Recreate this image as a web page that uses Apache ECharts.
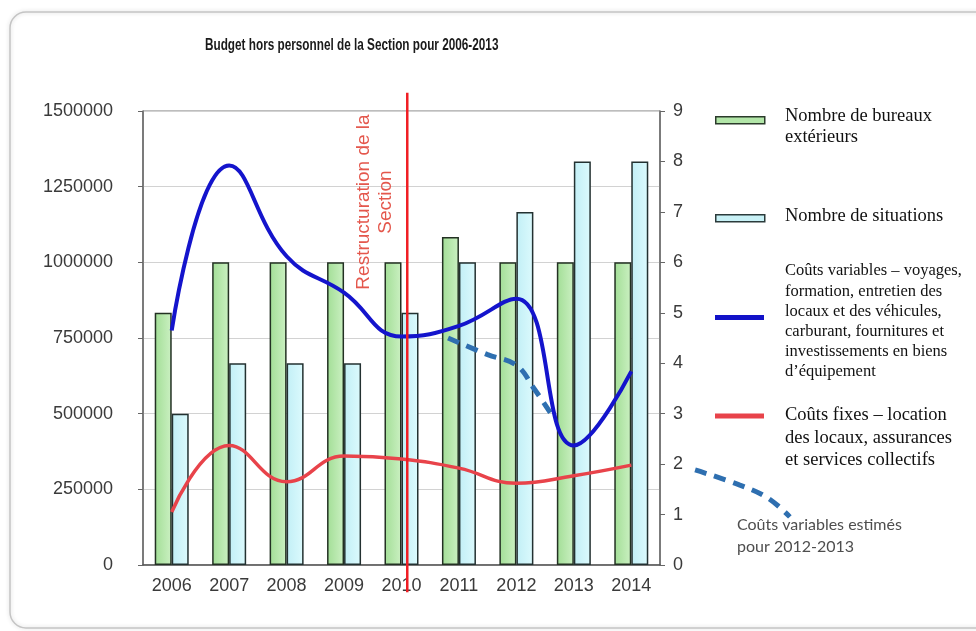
<!DOCTYPE html>
<html>
<head>
<meta charset="utf-8">
<script src="https://cdn.jsdelivr.net/npm/echarts@6/dist/echarts.min.js"></script>
<style>
  html, body { margin: 0; padding: 0; background: #ffffff; }
  #chart { width: 976px; height: 631px; }
</style>
</head>
<body>
<div id="chart"></div>
<script>
// Years on the category axis
const years = ['2006', '2007', '2008', '2009', '2010', '2011', '2012', '2013', '2014'];

// Counts (right axis)
const bureauxExterieurs = [5, 6, 6, 6, 6, 6.5, 6, 6, 6];
const situations = [3, 4, 4, 4, 5, 6, 7, 8, 8];

// Costs (left axis)
const coutsVariables = [775000, 1320000, 1020000, 900000, 755000, 790000, 880000, 395000, 640000];
const coutsFixes = [175000, 395000, 275000, 360000, 350000, 320000, 270000, 295000, 330000];

// Estimated variable costs, on a continuous scale where 0 = 2006 ... 8 = 2014
const estimesX = [4.81, 5.5, 6.0, 6.3, 6.64];
const estimesY = [750000, 695000, 660000, 585000, 489000];

// Leader from the right axis down to the note about the estimate (same scale, past 2014)
const renvoiX = [9.11, 9.89, 10.38, 10.76];
const renvoiY = [314000, 264000, 221000, 159000];

// Restructuring marker (inside 2010), running past the plot at both ends
const restructurationX = 4.1;
const restructurationY = [1560000, -90000];

// Axis ticks
const yLeftTicks = { min: 0, max: 1500000, interval: 250000 };
const yRightTicks = { min: 0, max: 9, interval: 1 };

const names = {
  bureaux: 'Nombre de bureaux extérieurs',
  situations: 'Nombre de situations',
  variables: 'Coûts variables',
  fixes: 'Coûts fixes'
};

// Wrapped legend labels
const legendLabels = [
  { lines: ['Nombre de bureaux', 'extérieurs'], top: 106, size: 18.5, lh: 20.5 },
  { lines: ['Nombre de situations'], top: 205.5, size: 18.5, lh: 21 },
  { lines: ['Coûts variables – voyages,', 'formation, entretien des', 'locaux et des véhicules,',
      'carburant, fournitures et', 'investissements en biens', 'd’équipement'], top: 261, size: 16.5, lh: 20.2 },
  { lines: ['Coûts fixes – location', 'des locaux, assurances', 'et services collectifs'], top: 404, size: 18.5, lh: 22.5 }
];

const serif = "'Liberation Serif', 'Times New Roman', serif";
const sans = "'Liberation Sans', Arial, sans-serif";

// One legend per key; the wrapped labels are set beside the keys
function legendKey(name, top, iconH, style) {
  return {
    data: [{ name: name, icon: 'rect', itemStyle: style }],
    left: 715,
    top: top,
    padding: 0,
    itemWidth: 49,
    itemHeight: iconH,
    selectedMode: false,
    formatter: function () { return ''; },
    textStyle: { fontSize: 2, lineHeight: 2 }
  };
}

const chart = echarts.init(document.getElementById('chart'), null, { renderer: 'canvas' });

const labelGraphics = legendLabels.map(function (b) {
  return {
    type: 'text',
    silent: true,
    x: 785,
    y: b.top,
    style: {
      text: b.lines.join('\n'),
      fontFamily: serif,
      fontSize: b.size,
      lineHeight: b.lh,
      fill: '#111111',
      align: 'left',
      verticalAlign: 'top'
    }
  };
});

const option = {
  backgroundColor: '#ffffff',
  animation: false,
  grid: [
    {
      left: 143,
      right: 316,
      top: 111,
      bottom: 66,
      show: true,
      borderColor: '#7a7a7a',
      borderWidth: 1,
      backgroundColor: 'transparent'
    },
    {
      // same year spacing as the main plot, extended to the right edge
      left: 143,
      right: 0,
      top: 111,
      bottom: 66,
      show: false
    }
  ],
  legend: [
    legendKey(names.bureaux, 116, 7, { color: '#b2e6a8', borderColor: '#2b3b2b', borderWidth: 1.5 }),
    legendKey(names.situations, 214, 7, { color: '#c8f1f6', borderColor: '#2b3b3b', borderWidth: 1.5 }),
    legendKey(names.variables, 315, 5, { color: '#1212c8', borderWidth: 0 }),
    legendKey(names.fixes, 413.5, 5, { color: '#e8434a', borderWidth: 0 })
  ],
  xAxis: [
    {
      type: 'category',
      gridIndex: 0,
      data: years,
      boundaryGap: true,
      axisLine: { onZero: false, lineStyle: { color: '#555555', width: 1.5 } },
      axisTick: { alignWithLabel: true, length: 5, lineStyle: { color: '#555555' } },
      axisLabel: { fontFamily: sans, fontSize: 18, color: '#3a3a3a', margin: 12 },
      splitLine: { show: false }
    },
    {
      type: 'value',
      gridIndex: 1,
      min: -0.5,
      max: 14,
      show: false
    }
  ],
  yAxis: [
    {
      type: 'value',
      gridIndex: 0,
      min: yLeftTicks.min,
      max: yLeftTicks.max,
      interval: yLeftTicks.interval,
      axisLine: { show: true, onZero: false, lineStyle: { color: '#666666', width: 1.5 } },
      axisTick: { show: true, length: 5, lineStyle: { color: '#666666' } },
      axisLabel: {
        fontFamily: sans, fontSize: 18, color: '#3a3a3a', margin: 30,
        formatter: function (v) { return String(v); }
      },
      splitLine: { show: true, lineStyle: { color: '#d2d2d2', width: 1 } }
    },
    {
      type: 'value',
      gridIndex: 0,
      position: 'right',
      min: yRightTicks.min,
      max: yRightTicks.max,
      interval: yRightTicks.interval,
      axisLine: { show: true, onZero: false, lineStyle: { color: '#666666', width: 1.5 } },
      axisTick: { show: true, length: 5, lineStyle: { color: '#666666' } },
      axisLabel: { fontFamily: sans, fontSize: 18, color: '#3a3a3a', margin: 13 },
      splitLine: { show: false }
    },
    {
      type: 'value',
      gridIndex: 1,
      min: yLeftTicks.min,
      max: yLeftTicks.max,
      show: false
    }
  ],
  series: [
    {
      name: names.bureaux,
      type: 'bar',
      xAxisIndex: 0,
      yAxisIndex: 1,
      data: bureauxExterieurs,
      barWidth: 17,
      barGap: '0%',
      itemStyle: {
        color: new echarts.graphic.LinearGradient(0, 0, 1, 0, [
          { offset: 0, color: '#a2de96' },
          { offset: 1, color: '#cbf0c2' }
        ]),
        borderColor: '#233123',
        borderWidth: 1.5
      },
      z: 2
    },
    {
      name: names.situations,
      type: 'bar',
      xAxisIndex: 0,
      yAxisIndex: 1,
      data: situations,
      barWidth: 17,
      barGap: '0%',
      itemStyle: {
        color: new echarts.graphic.LinearGradient(0, 0, 1, 0, [
          { offset: 0, color: '#c2eff6' },
          { offset: 1, color: '#dcfafd' }
        ]),
        borderColor: '#233131',
        borderWidth: 1.5
      },
      z: 2
    },
    {
      name: names.variables,
      type: 'line',
      xAxisIndex: 0,
      yAxisIndex: 0,
      data: coutsVariables,
      smooth: 0.45,
      showSymbol: false,
      lineStyle: { color: '#1414cc', width: 4 },
      itemStyle: { color: '#1414cc' },
      z: 4
    },
    {
      name: names.fixes,
      type: 'line',
      xAxisIndex: 0,
      yAxisIndex: 0,
      data: coutsFixes,
      smooth: 0.45,
      showSymbol: false,
      lineStyle: { color: '#e8434a', width: 3.5 },
      itemStyle: { color: '#e8434a' },
      z: 4
    },
    {
      name: 'Coûts variables estimés',
      type: 'line',
      xAxisIndex: 1,
      yAxisIndex: 2,
      data: estimesX.map(function (x, i) { return [x, estimesY[i]]; }),
      smooth: 0.4,
      showSymbol: false,
      lineStyle: { color: '#2e6fb0', width: 5, type: [12, 8] },
      z: 3
    },
    {
      name: 'renvoi',
      type: 'line',
      xAxisIndex: 1,
      yAxisIndex: 2,
      data: renvoiX.map(function (x, i) { return [x, renvoiY[i]]; }),
      smooth: 0.4,
      showSymbol: false,
      lineStyle: { color: '#2e6fb0', width: 5, type: [12, 8] },
      z: 3
    },
    {
      name: 'Restructuration',
      type: 'line',
      xAxisIndex: 1,
      yAxisIndex: 2,
      data: restructurationY.map(function (y) { return [restructurationX, y]; }),
      clip: false,
      showSymbol: false,
      lineStyle: { color: '#f01e24', width: 2.5 },
      z: 6
    }
  ],
  graphic: [
    {
      type: 'rect',
      silent: true,
      z: -10,
      shape: { x: 10, y: 12, width: 1010, height: 616, r: 16 },
      style: {
        fill: 'transparent',
        stroke: '#c4c4c4',
        lineWidth: 1.5,
        shadowBlur: 4,
        shadowColor: 'rgba(0,0,0,0.18)'
      }
    },
    {
      // chart title, set in a condensed bold face
      type: 'text',
      silent: true,
      x: 205,
      y: 46,
      scaleX: 0.735,
      style: {
        text: 'Budget hors personnel de la Section pour 2006-2013',
        fontFamily: sans,
        fontSize: 16,
        fontWeight: 'bold',
        fill: '#1a1a1a',
        align: 'left',
        verticalAlign: 'middle'
      }
    },
    {
      type: 'text',
      silent: true,
      x: 375,
      y: 202,
      rotation: Math.PI / 2,
      z: 7,
      style: {
        text: 'Restructuration de la\nSection',
        fontFamily: sans,
        fontSize: 19,
        lineHeight: 22,
        fill: '#e4574c',
        align: 'center',
        verticalAlign: 'middle'
      }
    },
    {
      type: 'text',
      silent: true,
      x: 737,
      y: 536,
      z: 7,
      style: {
        text: 'Coûts variables estimés\npour 2012-2013',
        fontFamily: "Lato, 'Open Sans', sans-serif",
        fontSize: 16,
        lineHeight: 22,
        fill: '#4e4e4e',
        align: 'left',
        verticalAlign: 'middle'
      }
    }
  ].concat(labelGraphics)
};

chart.setOption(option);
</script>
</body>
</html>
